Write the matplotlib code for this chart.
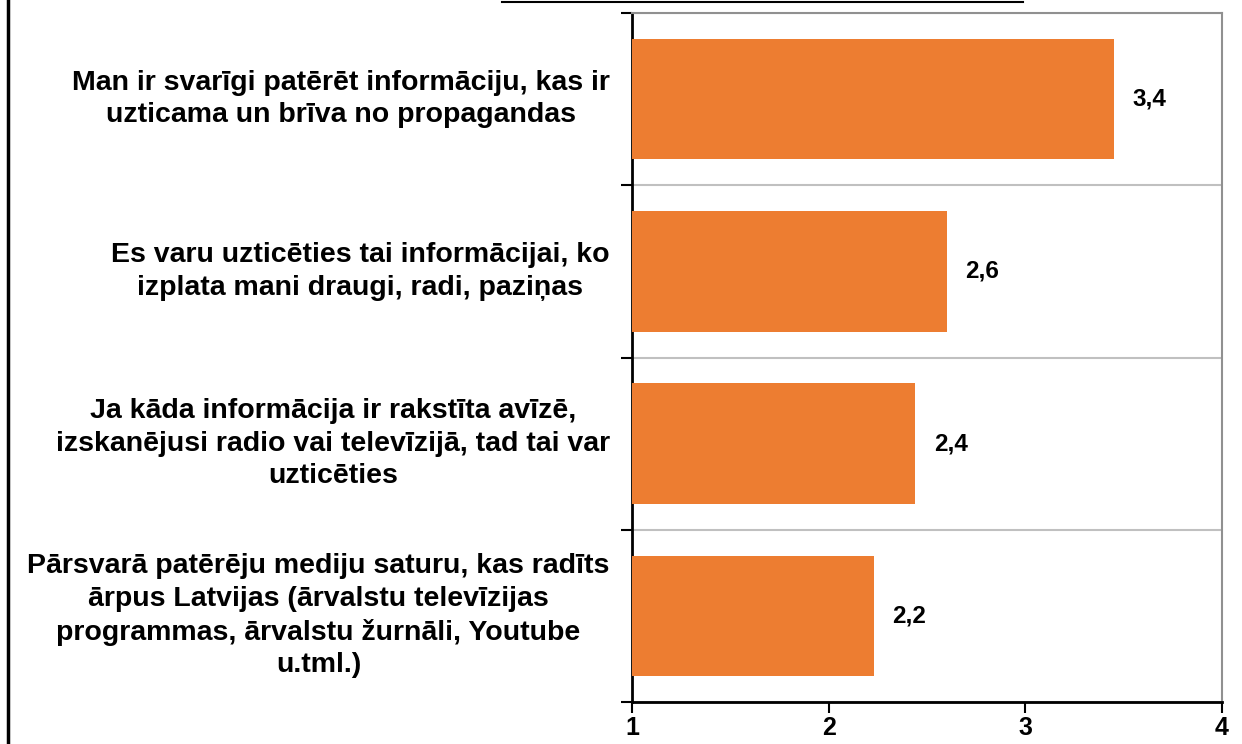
import matplotlib.pyplot as plt
from matplotlib.lines import Line2D

plt.rcParams['font.family'] = ['Liberation Sans', 'DejaVu Sans']

apgalvojumi = [
    "Man ir svarīgi patērēt informāciju, kas ir\nuzticama un brīva no propagandas",
    "Es varu uzticēties tai informācijai, ko\nizplata mani draugi, radi, paziņas",
    "Ja kāda informācija ir rakstīta avīzē,\nizskanējusi radio vai televīzijā, tad tai var\nuzticēties",
    "Pārsvarā patērēju mediju saturu, kas radīts\nārpus Latvijas (ārvalstu televīzijas\nprogrammas, ārvalstu žurnāli, Youtube\nu.tml.)",
]
vertejumi = [3.45, 2.6, 2.44, 2.23]
etiketes = ["3,4", "2,6", "2,4", "2,2"]
x_ticks = [1, 2, 3, 4]

fig = plt.figure(figsize=(12.42, 7.44), dpi=100)
ax = fig.add_axes([632 / 1242, 1 - 702 / 744, 590 / 1242, 689 / 744])

y = list(range(len(apgalvojumi)))
ax.barh(y, [v - 1 for v in vertejumi], left=1, height=0.70, color='#ED7D31', zorder=3)

for yi, v, lab in zip(y, vertejumi, etiketes):
    ax.text(v + 0.095, yi, lab, va='center', ha='left', fontsize=17.5, fontweight='bold')

ax.set_xlim(1, 4)
ax.set_ylim(len(apgalvojumi) - 0.5, -0.5)
ax.set_xticks(x_ticks)
ax.set_xticklabels([str(t) for t in x_ticks], fontsize=18, fontweight='bold')

ax.set_yticks(y)
ax.set_yticklabels(apgalvojumi, fontsize=20.5, fontweight='bold',
                   multialignment='center', linespacing=1.33)
ax.tick_params(axis='y', length=0, pad=16)
ax.set_yticks([i - 0.5 for i in range(len(apgalvojumi) + 1)], minor=True)
ax.tick_params(axis='y', which='minor', length=8, width=1.5, direction='out')
ax.tick_params(axis='x', length=8, width=1.5, direction='out', pad=2)

ax.grid(axis='y', which='minor', color='#c0c0c0', linewidth=1.5, zorder=0)

for side in ['left', 'bottom']:
    ax.spines[side].set_color('black')
    ax.spines[side].set_linewidth(2)
for side in ['top', 'right']:
    ax.spines[side].set_color('#909090')
    ax.spines[side].set_linewidth(1.5)

# robeža pa kreisi un nogrieztā virsraksta apakša
fig.add_artist(Line2D([8 / 1242, 8 / 1242], [0, 1], color='black', linewidth=2.5))
fig.add_artist(Line2D([502 / 1242, 1023 / 1242], [1 - 1.5 / 744, 1 - 1.5 / 744],
                      color='black', linewidth=1.5))

for lbl in ax.get_yticklabels():
    lbl.set_verticalalignment('center')

fig.savefig('out.png', dpi=100)
